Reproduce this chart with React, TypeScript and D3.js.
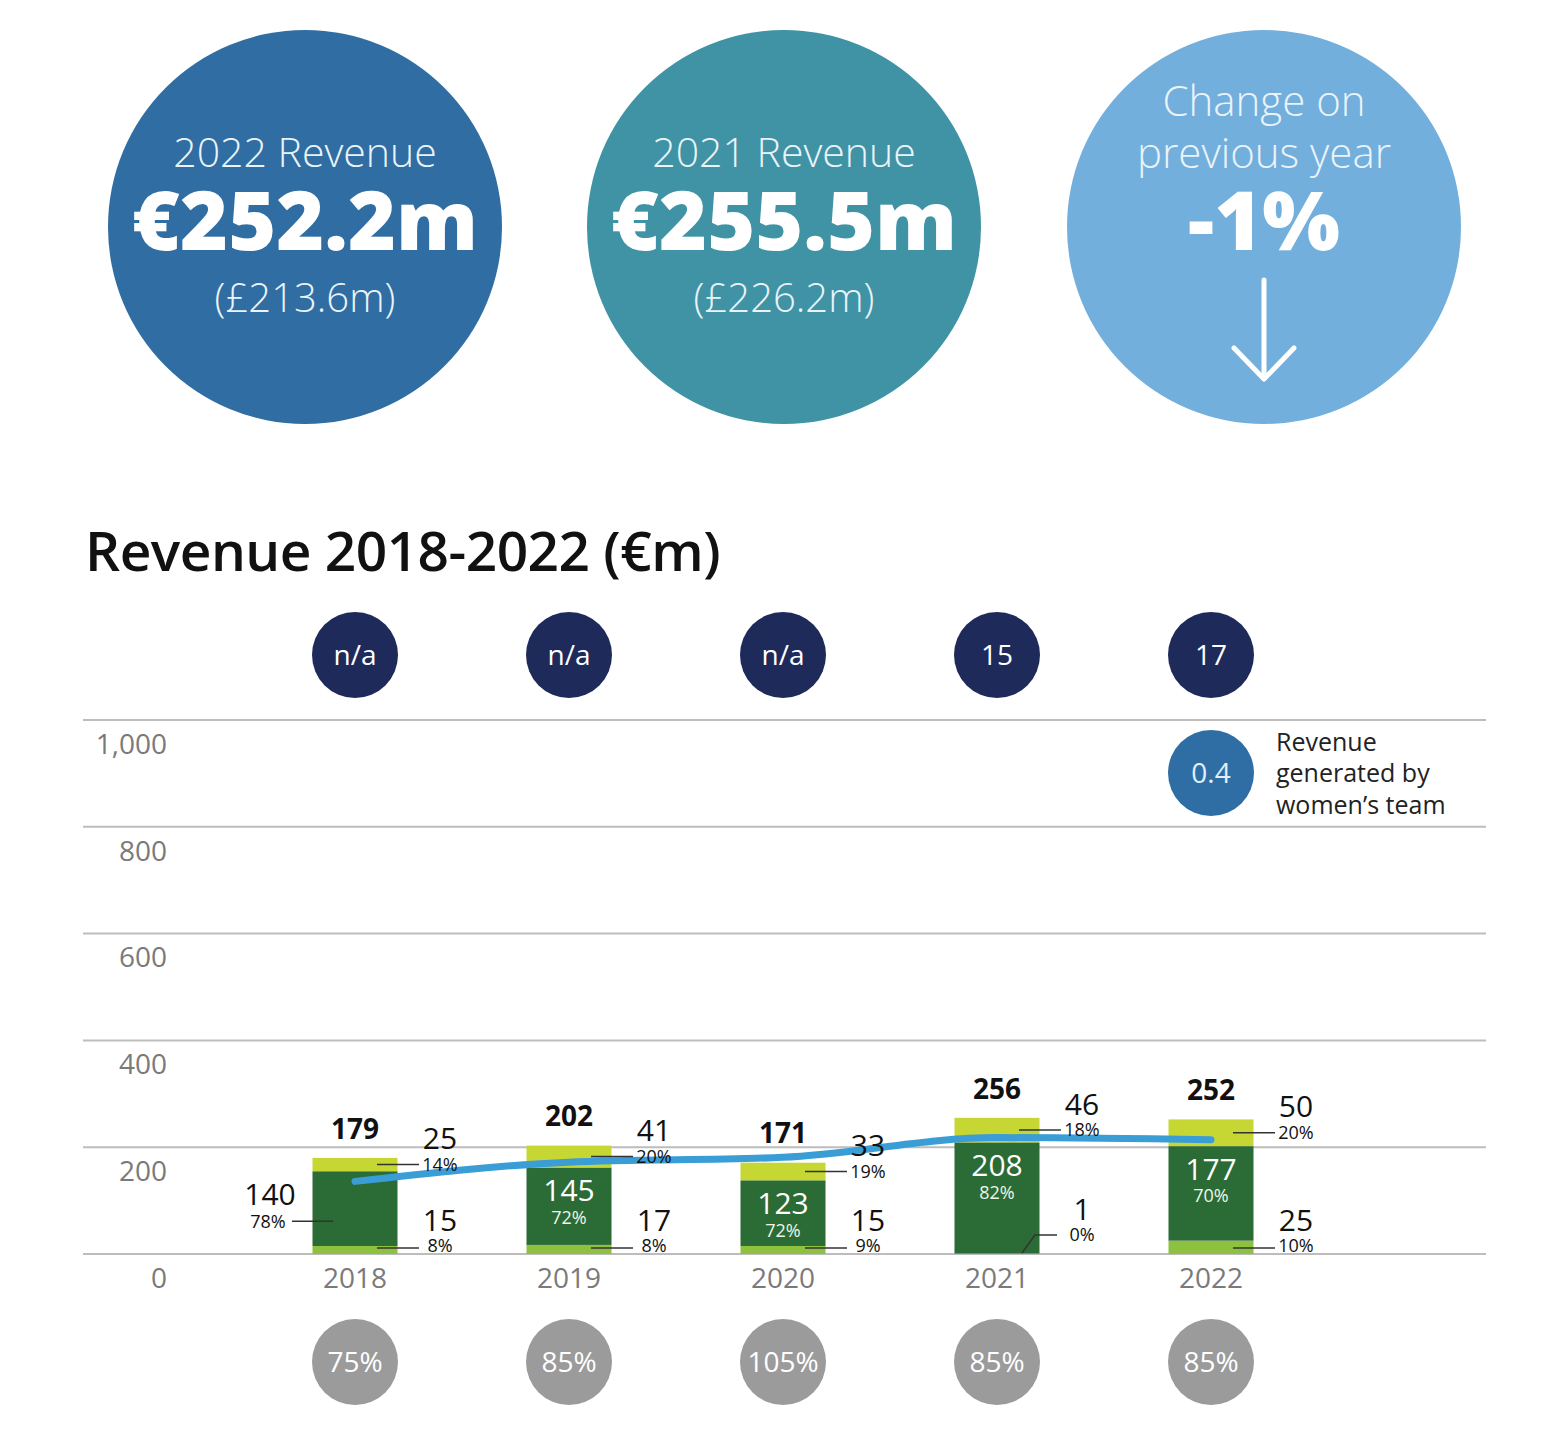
import React from "react";
import * as d3 from "d3";

// ---- data ----
const years = ["2018", "2019", "2020", "2021", "2022"];
const matchday = [15, 17, 15, 1, 25];
const broadcast = [140, 145, 123, 208, 177];
const commercial = [25, 41, 33, 46, 50];
const totals = [179, 202, 171, 256, 252];
const matchdayPct = ["8%", "8%", "9%", "0%", "10%"];
const broadcastPct = ["78%", "72%", "72%", "82%", "70%"];
const commercialPct = ["14%", "20%", "19%", "18%", "20%"];
const wages = [136, 172, 181, 218, 214];
const wageRatio = ["75%", "85%", "105%", "85%", "85%"];
const topBadges = ["n/a", "n/a", "n/a", "15", "17"];
const yTicks = [0, 200, 400, 600, 800, 1000];
const womensRevenue = "0.4";
const headline = [
  { lines: ["2022 Revenue"], big: "€252.2m", sub: "(£213.6m)" },
  { lines: ["2021 Revenue"], big: "€255.5m", sub: "(£226.2m)" },
  { lines: ["Change on", "previous year"], big: "-1%", sub: "" },
];

const FONT = "'Open Sans', 'Noto Sans', sans-serif";
const C_DARK = "#2b6b36";
const C_TOP = "#c6d734";
const C_BOT = "#8dc13f";
const circleFills = ["#2f6da3", "#3f93a5", "#72afdc"];

export default function App() {
  const W = 1550, H = 1452;
  const x = d3.scalePoint<string>().domain(years).range([355, 1211]);
  const y = d3.scaleLinear().domain([0, 1000]).range([1254, 720]);
  const bw = 85;

  const table = years.map((yr, i) => ({
    year: yr,
    matchday: matchday[i],
    broadcast: broadcast[i],
    commercial: commercial[i],
  }));
  const stack = d3.stack<any>().keys(["matchday", "broadcast", "commercial"]);
  const series = stack(table);
  const colors: Record<string, string> = { matchday: C_BOT, broadcast: C_DARK, commercial: C_TOP };

  const line = d3
    .line<number>()
    .x((_, i) => x(years[i])!)
    .y((d) => y(d))
    .curve(d3.curveMonotoneX);

  const headX = [305, 784, 1264];

  return (
    <svg
      width={W}
      height={H}
      style={{ position: "absolute", left: 0, top: 0, background: "#fff" }}
      fontFamily={FONT}
    >
      <rect width={W} height={H} fill="#fff" />
      {/* headline circles */}
      {headline.map((h, i) => {
        const cx = headX[i];
        return (
          <g key={i}>
            <circle cx={cx} cy={227} r={197} fill={circleFills[i]} />
            {h.lines.length === 1 ? (
              <text x={cx} y={167} textAnchor="middle" fill="#eaf3f8" fontSize={41} fontWeight={300}>
                {h.lines[0]}
              </text>
            ) : (
              h.lines.map((l, j) => (
                <text key={j} x={cx} y={116 + j * 52} textAnchor="middle" fill="#eaf3f8" fontSize={42} fontWeight={300}>
                  {l}
                </text>
              ))
            )}
            <text x={cx} y={250} textAnchor="middle" fill="#fff" fontSize={82} fontWeight={800}>
              {h.big}
            </text>
            {h.sub && (
              <text x={cx} y={312} textAnchor="middle" fill="#eaf3f8" fontSize={40} fontWeight={300}>
                {h.sub}
              </text>
            )}
            {i === 2 && (
              <g stroke="#fff" strokeWidth={5} fill="none" strokeLinecap="round" strokeLinejoin="round">
                <line x1={cx} y1={280} x2={cx} y2={378} />
                <polyline points={`${cx - 30},${348} ${cx},${379} ${cx + 30},${348}`} />
              </g>
            )}
          </g>
        );
      })}

      {/* title */}
      <text x={85} y={571} fontSize={55} fontWeight={600} fill="#111" letterSpacing={-0.5}>
        Revenue 2018-2022 (€m)
      </text>

      {/* top badges */}
      {years.map((yr, i) => (
        <g key={"tb" + yr}>
          <circle cx={x(yr)} cy={655} r={43} fill="#1e2a5a" />
          <text x={x(yr)} y={655} dy="0.35em" textAnchor="middle" fill="#fff" fontSize={28}>
            {topBadges[i]}
          </text>
        </g>
      ))}

      {/* grid */}
      {yTicks.map((t) => (
        <g key={"g" + t}>
          <line x1={83} x2={1486} y1={y(t)} y2={y(t)} stroke="#bdbdbd" strokeWidth={2} />
          <text x={167} y={y(t) + 24} dy="0.35em" textAnchor="end" fill="#7a7a7a" fontSize={28}>
            {d3.format(",")(t)}
          </text>
        </g>
      ))}

      {/* legend */}
      <circle cx={1211} cy={773} r={43} fill="#2e6ea4" />
      <text x={1211} y={773} dy="0.35em" textAnchor="middle" fill="#e3eff8" fontSize={28}>
        {womensRevenue}
      </text>
      {["Revenue", "generated by", "women’s team"].map((l, j) => (
        <text key={l} x={1276} y={742 + j * 31.5} dy="0.35em" fill="#222" fontSize={25}>
          {l}
        </text>
      ))}

      {/* bars */}
      {series.map((s) => (
        <g key={s.key} fill={colors[s.key]}>
          {s.map((d, i) => (
            <rect
              key={i}
              x={x(years[i])! - bw / 2}
              width={bw}
              y={y(d[1])}
              height={y(d[0]) - y(d[1])}
            />
          ))}
        </g>
      ))}

      {/* wages line */}
      <path d={line(wages)!} fill="none" stroke="#3a9dd6" strokeWidth={7} strokeLinecap="round" />

      {/* labels */}
      {years.map((yr, i) => {
        const cx = x(yr)!;
        const topOfStack = matchday[i] + broadcast[i] + commercial[i];
        const darkTop = y(matchday[i] + broadcast[i]);
        const comMid = y(matchday[i] + broadcast[i] + commercial[i] / 2);
        const small = matchday[i] < 5;
        const botPctY = small ? y(0) - 19 : Math.min(y(matchday[i] / 2), y(0) - 8);
        const inside = i !== 0;
        const lead = { stroke: "#333", strokeWidth: 1.5 };
        return (
          <g key={"lb" + yr}>
            <text x={cx} y={y(topOfStack) - 29} dy="0.35em" textAnchor="middle" fontWeight={700} fontSize={28} fill="#111">
              {totals[i]}
            </text>
            {/* broadcast */}
            {inside ? (
              <>
                <text x={cx} y={darkTop + 23} dy="0.35em" textAnchor="middle" fill="#fff" fontSize={30}>
                  {broadcast[i]}
                </text>
                <text x={cx} y={darkTop + 50} dy="0.35em" textAnchor="middle" fill="#eef6e8" fontSize={18}>
                  {broadcastPct[i]}
                </text>
              </>
            ) : (
              <>
                <text x={cx - 85} y={darkTop + 23} dy="0.35em" textAnchor="middle" fill="#111" fontSize={30}>
                  {broadcast[i]}
                </text>
                <text x={cx - 87} y={darkTop + 50} dy="0.35em" textAnchor="middle" fill="#111" fontSize={18}>
                  {broadcastPct[i]}
                </text>
                <line x1={cx - 63} x2={cx - 22} y1={darkTop + 50} y2={darkTop + 50} {...lead} />
              </>
            )}
            {/* commercial */}
            <line x1={cx + 22} x2={cx + 64} y1={comMid} y2={comMid} {...lead} />
            <text x={cx + 85} y={comMid} dy="0.35em" textAnchor="middle" fill="#111" fontSize={18}>
              {commercialPct[i]}
            </text>
            <text x={cx + 85} y={comMid - 26} dy="0.35em" textAnchor="middle" fill="#111" fontSize={30}>
              {commercial[i]}
            </text>
            {/* matchday */}
            {small ? (
              <polyline
                points={`${cx + 25},${y(0) - 1} ${cx + 38},${botPctY} ${cx + 60},${botPctY}`}
                fill="none"
                {...lead}
              />
            ) : (
              <line x1={cx + 22} x2={cx + 64} y1={botPctY + 2} y2={botPctY + 2} {...lead} />
            )}
            <text x={cx + 85} y={botPctY} dy="0.35em" textAnchor="middle" fill="#111" fontSize={18}>
              {matchdayPct[i]}
            </text>
            <text x={cx + 85} y={botPctY - 26} dy="0.35em" textAnchor="middle" fill="#111" fontSize={30}>
              {matchday[i]}
            </text>
            {/* year */}
            <text x={cx} y={1278} dy="0.35em" textAnchor="middle" fill="#7a7a7a" fontSize={28}>
              {yr}
            </text>
            {/* wage ratio */}
            <circle cx={cx} cy={1362} r={43} fill="#9b9b9b" />
            <text x={cx} y={1362} dy="0.35em" textAnchor="middle" fill="#fff" fontSize={28}>
              {wageRatio[i]}
            </text>
          </g>
        );
      })}
    </svg>
  );
}
